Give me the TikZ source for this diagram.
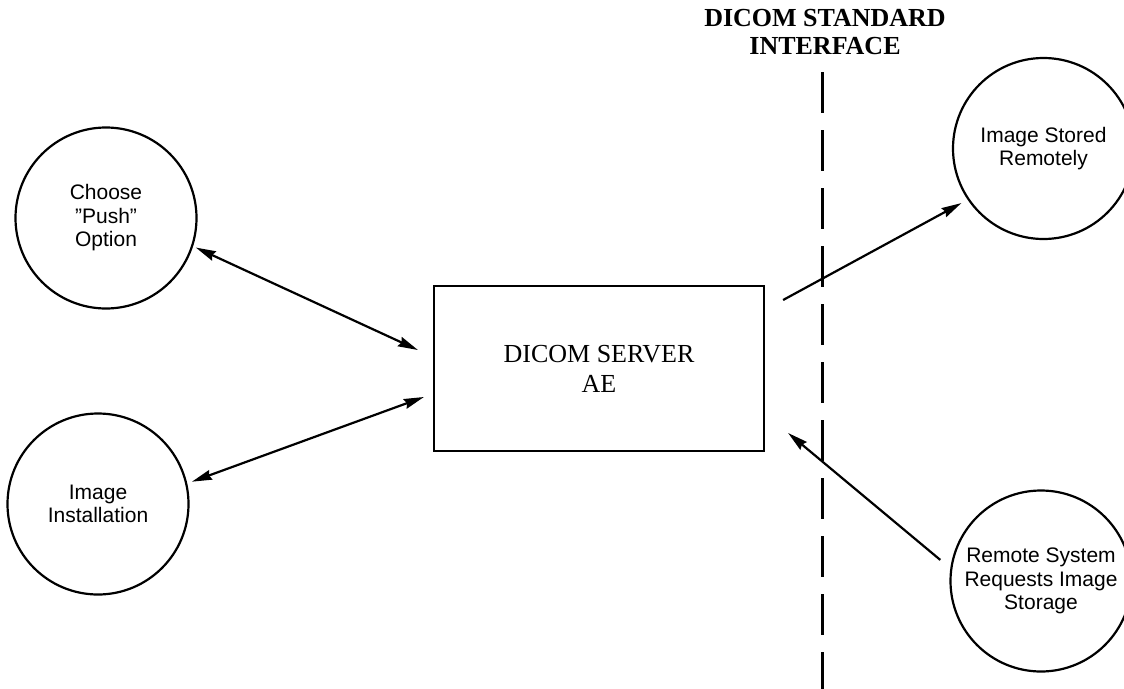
\documentclass[tikz,border=0pt]{standalone}
\usepackage{fontspec}
\setmainfont{Liberation Serif}
\setsansfont{Liberation Sans}
\usetikzlibrary{arrows.meta,calc}
\tikzset{
  proc/.style={draw, circle, line width=2.2pt, minimum size=181pt, inner sep=0pt,
    align=center, font=\sffamily\fontsize{21}{23.5}\selectfont},
  server/.style={draw, rectangle, line width=2.2pt, minimum width=330pt, minimum height=165pt,
    align=center, font=\fontsize{26}{30}\selectfont},
  flow/.style={line width=2.2pt, -{Stealth[length=20pt,width=10pt,inset=2pt]}},
  flow2/.style={line width=2.2pt, {Stealth[length=20pt,width=10pt,inset=2pt]}-{Stealth[length=20pt,width=10pt,inset=2pt]}},
  iface/.style={line width=3pt, dash pattern=on 41pt off 17pt},
  title/.style={align=center, inner sep=0pt, font=\bfseries\fontsize{26}{28}\selectfont}
}
\begin{document}
\begin{tikzpicture}[x=1pt,y=-1pt]
\useasboundingbox (0,0) rectangle (1124,688);
\begin{scope}
\clip (0,0) rectangle (1124,688);
\node[proc] (choose) at (106,218) {Choose\\”Push”\\Option};
\node[proc] (inst) at (98,504) {Image\\Installation};
\node[proc] (stored) at (1043.5,148.5) {Image Stored\\Remotely};
\node[proc] (remote) at (1041,581) {Remote System\\Requests Image\\Storage};
\node[server] (box) at (599,368.5) {DICOM SERVER\\AE};
\node[title] (ttl) at (825,32) {DICOM STANDARD\\INTERFACE};
\coordinate (ifTop) at (822.7,72);
\coordinate (ifBot) at (822.7,690);
\draw[iface] (ifTop) -- (ifBot);
\draw[flow2, shorten <=3pt] (choose.-18) -- ([shift={(-15,-18.5)}]box.west);
\draw[flow2, shorten <=5pt] (inst.13) -- ([shift={(-9,28.5)}]box.west);
\draw[flow, shorten >=7pt] ([shift={(18,-68.5)}]box.east) -- (stored.214.6);
\draw[flow, shorten <=13pt] (remote.172) -- ([shift={(23,64.5)}]box.east);
\end{scope}
\end{tikzpicture}
\end{document}
